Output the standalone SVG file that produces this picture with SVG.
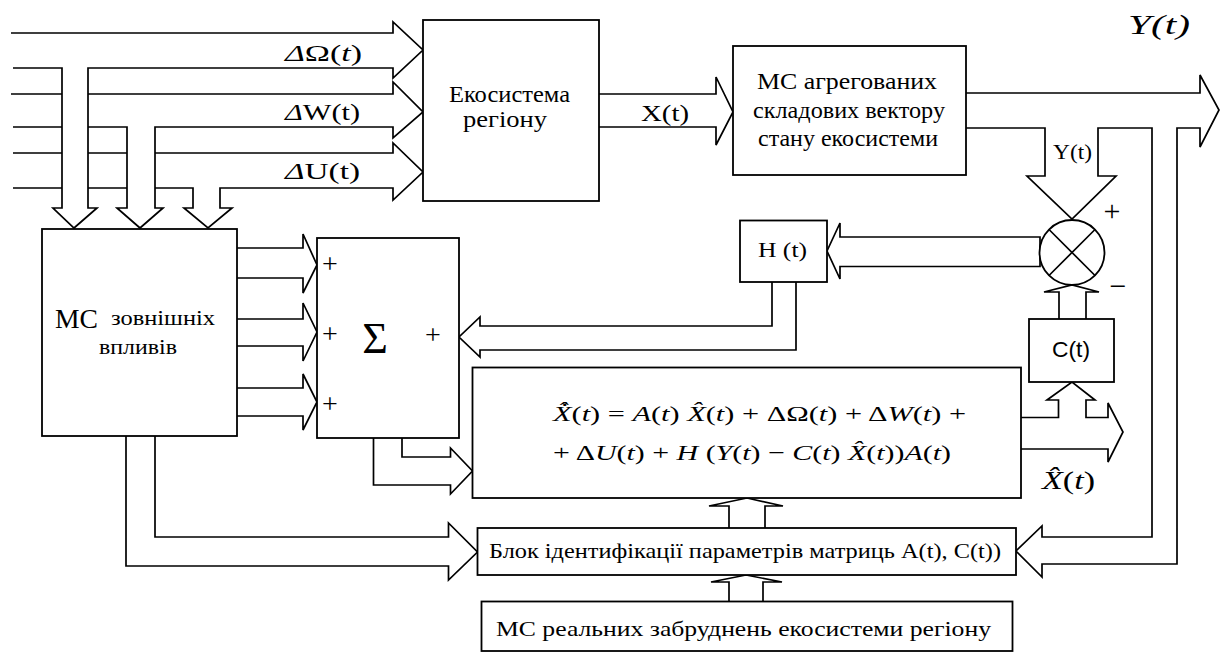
<svg xmlns="http://www.w3.org/2000/svg" width="1222" height="655" viewBox="0 0 1222 655">
<style>
.ln{fill:none;stroke:#000;stroke-width:1.7;stroke-linejoin:miter}
.bx{fill:#fff;stroke:#000;stroke-width:1.8}
.t{font-family:'Liberation Serif','DejaVu Serif',serif;fill:#000}
.s{font-family:'Liberation Sans','DejaVu Sans',sans-serif;fill:#000}
.i{font-style:italic}
</style>
<rect width="1222" height="655" fill="#fff"/>
<g id="connectors" class="ln">
  <path d="M11,33 H393 V22 L423,50 L393,78 V68 H88 V208 H97 L74,228 L53,208 H62 V68 H13"/>
  <path d="M11,94 H62 M88,94 H393 V82 L423,112 L393,138 V127 H155 V208 H163 L140,228 L117,208 H127 V127 H88 M62,127 H13"/>
  <path d="M13,153 H62 M88,153 H127 M155,153 H393 V143 L423,172 L393,200 V188 H220 V208 H232 L208,228 L184,208 H193 V188 H155 M127,188 H88 M62,188 H13"/>
  <path d="M599,94 H716 V77 L733,112 L716,145 V127 H599"/>
  <path d="M966,93 H1200 V75 L1219,110 L1200,147 V128 H1177 V564 H1042 V577 L1016,551 L1042,526 V537 H1152 V128 H1098 V176 H1116 L1072,219 L1027,176 H1045 V128 H966"/>
  <path d="M1040,237 H840 V223 L827,251 L840,279 V266.5 H1040 Z"/>
  <path d="M772,282 V326 H480 V317 L459,337 L480,357 V350 H796 V282"/>
  <path d="M237,248 H303 V234 L317,265 L303,293 V278 H237"/>
  <path d="M237,319 H303 V303 L317,332 L303,361 V346 H237"/>
  <path d="M237,388 H303 V374 L317,402 L303,430 V416 H237"/>
  <path d="M373.5,438 V485 H450.5 V494 L472.5,471 L450.5,448 V457 H402 V438"/>
  <path d="M126,436 V566 H448.5 V580 L477.5,552 L448.5,523 V537 H155 V436"/>
  <path d="M1021,417.5 H1058.5 V400 H1047 L1072,382 L1095,400 H1086 V417.5 H1108 V403 L1123,432 L1108,462 V449 H1021"/>
  <path d="M1059,319 V292 H1044 L1072,285 L1099,292 H1086 V319"/>
  <path d="M729,528 V506 H709 L747,498 L783,506 H765 V528"/>
  <path d="M729,602 V582 H711 L746,575 L782,582 H763 V602"/>
</g>
<g id="connector-labels" class="t" font-family="Liberation Serif, DejaVu Serif, serif">
  <text x="285" y="61" font-size="24" textLength="77" lengthAdjust="spacingAndGlyphs"><tspan class="i">Δ</tspan>Ω(<tspan class="i">t</tspan>)</text>
  <text x="285" y="120" font-size="24" textLength="75" lengthAdjust="spacingAndGlyphs"><tspan class="i">Δ</tspan>W(t)</text>
  <text x="285" y="179" font-size="24" textLength="75" lengthAdjust="spacingAndGlyphs"><tspan class="i">Δ</tspan>U(t)</text>
  <text x="641" y="121" font-size="24" textLength="48" lengthAdjust="spacingAndGlyphs">X(t)</text>
  <text x="1053" y="159" font-size="22" textLength="39" lengthAdjust="spacingAndGlyphs">Y(t)</text>
  <text x="1128" y="34" font-size="27" class="i" textLength="62" lengthAdjust="spacingAndGlyphs">Y(t)</text>
  <text x="1042" y="489" font-size="26" textLength="53" lengthAdjust="spacingAndGlyphs"><tspan class="i">X&#770;</tspan>(<tspan class="i">t</tspan>)</text>
</g>
<g id="ecosystem">
  <rect class="bx" x="423" y="20" width="176" height="181"/>
  <text class="t" x="449" y="102" font-size="24" textLength="121" lengthAdjust="spacingAndGlyphs">Екосистема</text>
  <text class="t" x="463" y="127" font-size="24" textLength="84" lengthAdjust="spacingAndGlyphs">регіону</text>
</g>
<g id="mc-aggregated">
  <rect class="bx" x="733" y="46" width="233" height="129"/>
  <text class="t" x="757" y="89" font-size="23" textLength="180" lengthAdjust="spacingAndGlyphs">МС агрегованих</text>
  <text class="t" x="753" y="118" font-size="23" textLength="192" lengthAdjust="spacingAndGlyphs">складових вектору</text>
  <text class="t" x="758" y="146" font-size="23" textLength="180" lengthAdjust="spacingAndGlyphs">стану екосистеми</text>
</g>
<g id="mc-external">
  <rect class="bx" x="42" y="229" width="195" height="207"/>
  <text class="t" x="55" y="328" font-size="28" textLength="43" lengthAdjust="spacingAndGlyphs">МС</text>
  <text class="t" x="111" y="325" font-size="22" textLength="104" lengthAdjust="spacingAndGlyphs">зовнішніх</text>
  <text class="t" x="99" y="354" font-size="22" textLength="78" lengthAdjust="spacingAndGlyphs">впливів</text>
</g>
<g id="summator">
  <rect class="bx" x="317" y="238" width="142" height="200"/>
  <text class="t" x="330" y="272.5" font-size="28" text-anchor="middle">+</text>
  <text class="t" x="330" y="343" font-size="28" text-anchor="middle">+</text>
  <text class="t" x="330" y="412.5" font-size="28" text-anchor="middle">+</text>
  <text class="t" x="433" y="343.5" font-size="28" text-anchor="middle">+</text>
  <text class="t" x="375" y="353" font-size="44" text-anchor="middle">Σ</text>
</g>
<g id="h-block">
  <rect class="bx" x="740" y="220.5" width="87" height="61.5"/>
  <text class="t" x="758" y="257" font-size="22" textLength="49" lengthAdjust="spacingAndGlyphs">H (t)</text>
</g>
<g id="comparator">
  <circle class="bx" cx="1072" cy="252.5" r="32.5"/>
  <path class="ln" d="M1049,229.5 L1095,275.5 M1095,229.5 L1049,275.5" stroke-width="1.2"/>
  <text class="t" x="1112" y="221" font-size="30" text-anchor="middle">+</text>
  <text class="t" x="1118" y="296" font-size="30" text-anchor="middle">−</text>
</g>
<g id="c-block">
  <rect class="bx" x="1029" y="319" width="85" height="63"/>
  <text class="s" x="1052" y="357" font-size="22" textLength="38" lengthAdjust="spacingAndGlyphs">C(t)</text>
</g>
<g id="estimator">
  <rect class="bx" x="472.5" y="367.5" width="548.5" height="130.5"/>
  <text class="t" x="553" y="421" font-size="22" textLength="413" lengthAdjust="spacingAndGlyphs"><tspan class="i">X&#770;&#775;</tspan>(<tspan class="i">t</tspan>) = <tspan class="i">A</tspan>(<tspan class="i">t</tspan>) <tspan class="i">X&#770;</tspan>(<tspan class="i">t</tspan>) + ΔΩ(<tspan class="i">t</tspan>) + Δ<tspan class="i">W</tspan>(<tspan class="i">t</tspan>) +</text>
  <text class="t" x="553" y="460" font-size="22" textLength="398" lengthAdjust="spacingAndGlyphs">+ Δ<tspan class="i">U</tspan>(<tspan class="i">t</tspan>) + <tspan class="i">H</tspan> (<tspan class="i">Y</tspan>(<tspan class="i">t</tspan>) − <tspan class="i">C</tspan>(<tspan class="i">t</tspan>) <tspan class="i">X&#770;</tspan>(<tspan class="i">t</tspan>))<tspan class="i">A</tspan>(<tspan class="i">t</tspan>)</text>
</g>
<g id="identification">
  <rect class="bx" x="477.5" y="528" width="538.5" height="47"/>
  <text class="t" x="489" y="558" font-size="22" textLength="512" lengthAdjust="spacingAndGlyphs">Блок ідентифікації параметрів матриць A(t), C(t))</text>
</g>
<g id="mc-real">
  <rect class="bx" x="481.5" y="601.5" width="531" height="49.5"/>
  <text class="t" x="496" y="636" font-size="22" textLength="495" lengthAdjust="spacingAndGlyphs">МС реальних забруднень екосистеми регіону</text>
</g>
</svg>
